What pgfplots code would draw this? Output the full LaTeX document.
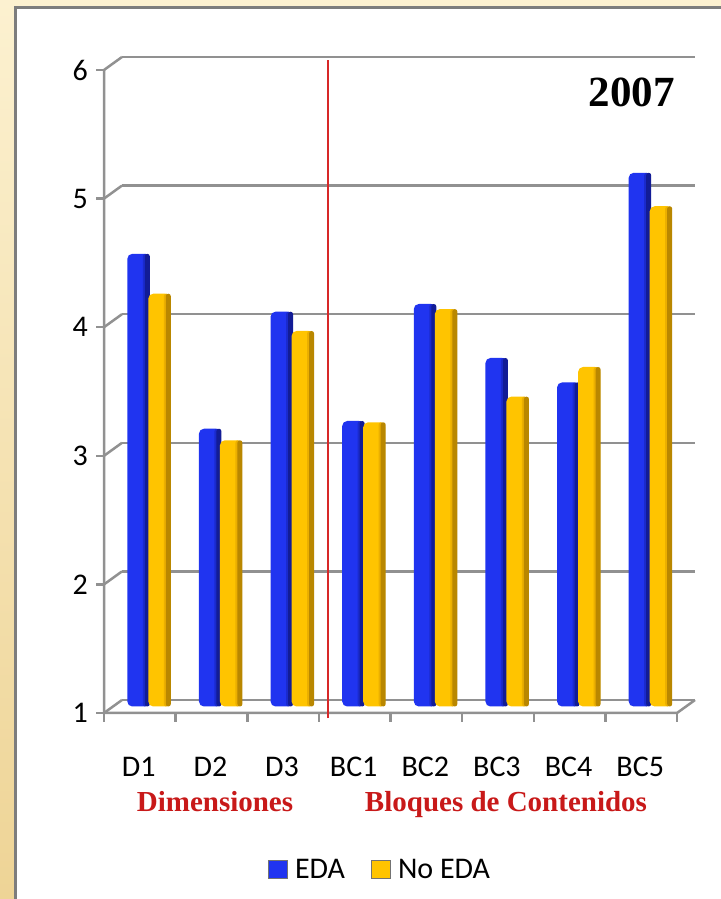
\documentclass[border=0pt]{standalone}
\usepackage{pgfplots}
\pgfplotsset{compat=1.18}
\usepackage{fontspec}
\setmainfont{Carlito}
\newfontfamily\serifb{Liberation Serif}

\definecolor{bgTop}{RGB}{252,241,208}
\definecolor{bgBot}{RGB}{238,212,150}
\definecolor{panelGray}{RGB}{125,125,125}
\definecolor{gridGray}{RGB}{145,145,145}
\definecolor{sepRed}{RGB}{215,40,40}
\definecolor{labRed}{RGB}{200,25,25}
\definecolor{bluMain}{RGB}{32,52,240}
\definecolor{bluEdge}{RGB}{26,42,205}
\definecolor{bluDark}{RGB}{18,28,150}
\definecolor{gldMain}{RGB}{255,196,0}
\definecolor{gldEdge}{RGB}{235,175,0}
\definecolor{gldDark}{RGB}{185,135,0}

\pgfplotstableread{
idx eda noeda
0   4.52 4.21
1   3.16 3.07
2   4.07 3.92
3   3.22 3.21
4   4.13 4.09
5   3.71 3.41
6   3.52 3.64
7   5.15 4.89
}\results

\begin{document}
\begin{tikzpicture}[x=1bp,y=1bp]
\useasboundingbox (0,0) rectangle (721,899);
% slide background and chart panel
\shade[top color=bgTop, bottom color=bgBot] (0,0) rectangle (721,899);
\fill[white] (15,-20) rectangle (740,891);
\draw[line width=3bp, panelGray] (15,-20) -- (15,891) -- (740,891);

\begin{axis}[
  at={(113bp,192.5bp)}, anchor=south west,
  width=573bp, height=643bp, scale only axis,
  xmin=-0.5, xmax=7.5, ymin=1, ymax=6,
  clip mode=individual,
  axis line style={draw=none},
  major tick style={draw=none},
  xtick={0,...,7},
  xticklabels={D1,D2,D3,BC1,BC2,BC3,BC4,BC5},
  ytick={1,...,6},
  /pgf/number format/assume math mode=true,
  tick label style={font=\fontsize{30bp}{30bp}\selectfont},
  yticklabel style={anchor=east, inner sep=0pt, xshift=-25bp, yshift=-6.5bp},
  xticklabel style={anchor=north, inner sep=0pt, yshift=-50bp, xshift=-10bp},
  legend style={at={(axis description cs:0.466,-0.2535)}, anchor=center,
    draw=none, fill=none, legend columns=2,
    font=\fontsize{30bp}{30bp}\selectfont,
    /tikz/every odd column/.append style={column sep=5bp},
    /tikz/every even column/.append style={column sep=24bp}},
  legend image code/.code={
    \draw[#1, draw=black!55, line width=1bp, sharp corners]
      (0bp,-9bp) rectangle (19bp,9bp);},
  bar base/.style={ybar, bar width=22bp, draw=none, rounded corners=5bp},
  bar edge/.style={ybar, bar width=5bp, draw=none, rounded corners=2.5bp, forget plot},
]
% back wall gridlines, side-wall diagonals and value ticks
\pgfplotsinvokeforeach{1,...,6}{
  \draw[gridGray, line width=2.5bp]
    ([shift={(9bp,6.5bp)}]axis cs:-0.5,#1) -- ([shift={(9bp,6.5bp)}]axis cs:7.5,#1);
  \draw[gridGray, line width=2.5bp]
    ([shift={(-9bp,-6.5bp)}]axis cs:-0.5,#1) -- ([shift={(9bp,6.5bp)}]axis cs:-0.5,#1);
  \draw[gridGray, line width=2.5bp]
    ([shift={(-9bp,-6.5bp)}]axis cs:-0.5,#1) -- ([shift={(-17bp,-6.5bp)}]axis cs:-0.5,#1);
}
% front value axis and floor edges
\draw[gridGray, line width=2.5bp]
  ([shift={(-9bp,-6.5bp)}]axis cs:-0.5,6) -- ([shift={(-9bp,-6.5bp)}]axis cs:-0.5,1)
  -- ([shift={(-9bp,-6.5bp)}]axis cs:7.5,1) -- ([shift={(9bp,6.5bp)}]axis cs:7.5,1);
\pgfplotsinvokeforeach{-0.5,0.5,...,7.5}{
  \draw[gridGray, line width=2.5bp]
    ([shift={(-9bp,-6.5bp)}]axis cs:#1,1) -- ([shift={(-9bp,-15.5bp)}]axis cs:#1,1);
}
% separator between dimensions and content blocks
\draw[sepRed, line width=2.2bp] (axis cs:2.5,0.91) -- (axis cs:2.5,6.03);

% EDA columns with darker right-hand side
\addplot[bar base, bar shift=-10.5bp, fill=bluMain] table[x=idx, y=eda] {\results};
\addlegendentry{EDA}
\addplot[bar edge, bar shift=-3.5bp, fill=bluEdge] table[x=idx, y=eda] {\results};
\addplot[bar edge, bar shift=-1.5bp, fill=bluDark] table[x=idx, y=eda] {\results};
% No EDA columns
\addplot[bar base, bar shift=10.5bp, fill=gldMain] table[x=idx, y=noeda] {\results};
\addlegendentry{No EDA}
\addplot[bar edge, bar shift=17.5bp, fill=gldEdge] table[x=idx, y=noeda] {\results};
\addplot[bar edge, bar shift=19.5bp, fill=gldDark] table[x=idx, y=noeda] {\results};
\end{axis}

% year and group captions
\node[anchor=base east, inner sep=0pt, font=\serifb\bfseries\fontsize{43bp}{43bp}\selectfont]
  at (675,792) {2007};
\node[anchor=base, inner sep=0pt, text=labRed, font=\serifb\bfseries\fontsize{29bp}{29bp}\selectfont]
  at (215,87) {Dimensiones};
\node[anchor=base, inner sep=0pt, text=labRed, font=\serifb\bfseries\fontsize{29bp}{29bp}\selectfont]
  at (506,87) {Bloques de Contenidos};
\end{tikzpicture}
\end{document}
